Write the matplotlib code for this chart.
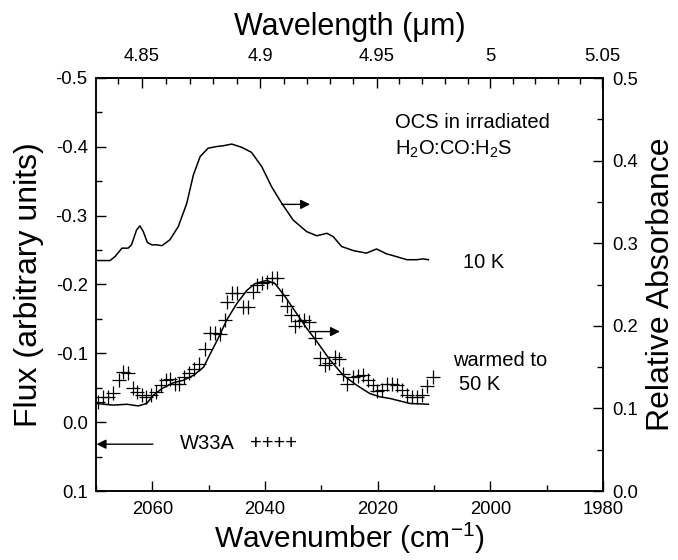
import matplotlib
matplotlib.use("Agg")
import matplotlib.pyplot as plt
from matplotlib.ticker import MultipleLocator, FormatStrFormatter, FixedLocator

plt.rcParams['font.family'] = ['Liberation Sans', 'DejaVu Sans']
plt.rcParams['mathtext.fontset'] = 'custom'
plt.rcParams['mathtext.rm'] = 'Liberation Sans'
plt.rcParams['mathtext.it'] = 'Liberation Sans:italic'
plt.rcParams['axes.unicode_minus'] = False

# ---- data ----
# lab spectrum, 10 K (relative absorbance, right axis)
wn_10k = [2070.0, 2067.5, 2066.6, 2065.4, 2064.3, 2063.7, 2062.8, 2062.2, 2061.6,
          2060.9, 2060.1, 2059.2, 2058.3, 2056.9, 2055.4, 2053.9, 2052.7, 2051.5,
          2050.1, 2048.6, 2047.4, 2045.9, 2044.1, 2042.4, 2040.6, 2038.8, 2037.0,
          2035.0, 2032.6, 2030.8, 2029.0, 2027.9, 2026.4, 2024.3, 2022.0, 2020.2,
          2018.4, 2017.8, 2014.8, 2013.1, 2011.9, 2011.0]
abs_10k = [0.279, 0.279, 0.284, 0.294, 0.294, 0.298, 0.316, 0.321, 0.314,
           0.301, 0.298, 0.298, 0.297, 0.304, 0.320, 0.348, 0.383, 0.405,
           0.415, 0.417, 0.418, 0.420, 0.416, 0.410, 0.393, 0.368, 0.348,
           0.328, 0.314, 0.309, 0.312, 0.308, 0.296, 0.291, 0.288, 0.293,
           0.287, 0.286, 0.280, 0.280, 0.281, 0.280]

# lab spectrum, warmed to 50 K (relative absorbance, right axis)
wn_50k = [2070.0, 2067.0, 2064.5, 2062.5, 2061.0, 2059.8, 2058.3, 2056.3, 2054.5,
          2052.7, 2050.9, 2049.8, 2048.3, 2046.8, 2045.0, 2043.2, 2041.8, 2039.7,
          2038.2, 2036.4, 2034.4, 2032.6, 2030.8, 2028.5, 2026.1, 2023.7, 2021.4,
          2019.6, 2017.8, 2014.3, 2011.0]
abs_50k = [0.106, 0.104, 0.105, 0.103, 0.106, 0.116, 0.124, 0.131, 0.134,
           0.140, 0.150, 0.165, 0.185, 0.207, 0.227, 0.243, 0.251, 0.255,
           0.251, 0.235, 0.215, 0.197, 0.181, 0.159, 0.140, 0.128, 0.118,
           0.114, 0.112, 0.106, 0.105]

# W33A observed flux (left axis)
wn_w33a = [2069.59, 2068.70, 2067.81, 2066.92, 2065.86, 2065.15, 2064.38, 2063.49,
           2062.78, 2061.89, 2061.12, 2060.30, 2059.41, 2058.52, 2057.63, 2056.87,
           2055.98, 2055.21, 2054.32, 2053.43, 2052.54, 2051.66, 2050.65, 2049.76,
           2048.88, 2047.99, 2047.10, 2046.69, 2045.92, 2045.03, 2043.85, 2042.96,
           2042.07, 2041.48, 2040.59, 2039.70, 2038.82, 2037.93, 2037.04, 2036.16,
           2035.39, 2034.68, 2033.91, 2033.02, 2032.13, 2031.13, 2030.24, 2029.35,
           2028.58, 2027.57, 2026.81, 2026.09, 2025.39, 2024.44, 2023.55, 2022.67,
           2021.78, 2020.89, 2020.06, 2019.17, 2018.40, 2017.51, 2016.62, 2015.73,
           2014.85, 2013.96, 2013.07, 2012.18, 2011.30, 2010.11]
flux_w33a = [-0.030, -0.037, -0.037, -0.042, -0.061, -0.073, -0.071, -0.050,
             -0.044, -0.040, -0.037, -0.040, -0.044, -0.054, -0.061, -0.063,
             -0.056, -0.056, -0.066, -0.071, -0.077, -0.085, -0.107, -0.129,
             -0.130, -0.128, -0.148, -0.174, -0.187, -0.187, -0.167, -0.167,
             -0.189, -0.199, -0.202, -0.204, -0.210, -0.209, -0.185, -0.169,
             -0.156, -0.139, -0.147, -0.149, -0.146, -0.122, -0.093, -0.083,
             -0.086, -0.095, -0.092, -0.070, -0.055, -0.065, -0.067, -0.069,
             -0.061, -0.054, -0.046, -0.047, -0.055, -0.056, -0.054, -0.047,
             -0.040, -0.037, -0.037, -0.040, -0.052, -0.066]

left_ticks = [-0.5, -0.4, -0.3, -0.2, -0.1, 0.0, 0.1]
right_ticks = [0.0, 0.1, 0.2, 0.3, 0.4, 0.5]
bottom_ticks = [2060, 2040, 2020, 2000, 1980]
top_ticks = [4.85, 4.9, 4.95, 5.0, 5.05]
top_tick_labels = ['4.85', '4.9', '4.95', '5', '5.05']

# ---- figure ----
fig = plt.figure(figsize=(6.78, 5.60), dpi=100)
ax = fig.add_axes([96/678, 1-491/560, 507/678, 413/560])
ax2 = ax.twinx()

lw_sp = 1.1
for a in (ax, ax2):
    for s in a.spines.values():
        s.set_linewidth(lw_sp)

ax.set_xlim(2070, 1980)
ax.set_ylim(0.1, -0.5)
ax2.set_ylim(0.0, 0.5)

ax.xaxis.set_major_locator(FixedLocator(bottom_ticks))
ax.xaxis.set_minor_locator(MultipleLocator(10))
ax.yaxis.set_major_locator(FixedLocator(left_ticks))
ax.yaxis.set_minor_locator(MultipleLocator(0.05))
ax.yaxis.set_major_formatter(FormatStrFormatter('%.1f'))
ax2.yaxis.set_major_locator(FixedLocator(right_ticks))
ax2.yaxis.set_minor_locator(MultipleLocator(0.05))
ax2.yaxis.set_major_formatter(FormatStrFormatter('%.1f'))

ax.tick_params(axis='both', which='major', direction='in', length=7, width=1.0, labelsize=13.3)
ax.tick_params(axis='both', which='minor', direction='in', length=4, width=1.0)
ax.tick_params(axis='x', which='major', pad=7.5)
ax.tick_params(axis='y', which='major', pad=6)
ax.tick_params(axis='x', which='both', top=False)
ax2.tick_params(axis='y', which='major', direction='in', length=7, width=1.0, labelsize=13.3, pad=6.5)
ax2.tick_params(axis='y', which='minor', direction='in', length=4, width=1.0)

secax = ax.secondary_xaxis('top', functions=(lambda x: 1e4 / x, lambda x: 1e4 / x))
secax.set_xticks(top_ticks)
secax.set_xticklabels(top_tick_labels)
secax.xaxis.set_minor_locator(MultipleLocator(0.01))
secax.tick_params(axis='x', which='major', direction='in', length=7, width=1.0, labelsize=13.3, pad=9)
secax.tick_params(axis='x', which='minor', direction='in', length=4, width=1.0)
secax.spines['top'].set_linewidth(lw_sp)
secax.set_xlabel('Wavelength (\u03bcm)', fontsize=22, labelpad=10)

# curves
ax2.plot(wn_10k, abs_10k, color='black', lw=1.1)
ax2.plot(wn_50k, abs_50k, color='black', lw=1.1)
ax.plot(wn_w33a, flux_w33a, linestyle='none', marker='+', markersize=9.5,
        markeredgewidth=0.9, color='black')

# arrows
arrow_kw = dict(arrowstyle='-|>', color='black', lw=1.0, mutation_scale=14,
                shrinkA=0, shrinkB=0)
ax2.annotate('', xy=(2032.0, 0.347), xytext=(2037.0, 0.347), arrowprops=arrow_kw)
ax2.annotate('', xy=(2026.7, 0.193), xytext=(2032.0, 0.193), arrowprops=arrow_kw)
ax.annotate('', xy=(2069.9, 0.032), xytext=(2059.9, 0.032), arrowprops=arrow_kw)

# text annotations
tk = dict(transform=ax.transAxes, fontsize=14.5, va='center', ha='left')
ax.text(0.590, 0.893, 'OCS in irradiated', **tk)
ax.text(0.590, 0.828, r'H$_2$O:CO:H$_2$S', **tk)
ax.text(0.724, 0.554, '10 K', **tk)
ax.text(0.704, 0.317, 'warmed to', **tk)
ax.text(0.716, 0.257, '50 K', **tk)
ax.text(0.166, 0.114, 'W33A', **tk)
ax.text(0.304, 0.114, '++++', transform=ax.transAxes, fontsize=14.5, va='center',
        ha='left', fontweight='light')

ax.set_xlabel(r'Wavenumber (cm$^{-1}$)', fontsize=21.5, labelpad=2)
ax.set_ylabel('Flux (arbitrary units)', fontsize=23, labelpad=8)
ax2.set_ylabel('Relative Absorbance', fontsize=23, labelpad=6)

fig.savefig('out.png', dpi=100)
